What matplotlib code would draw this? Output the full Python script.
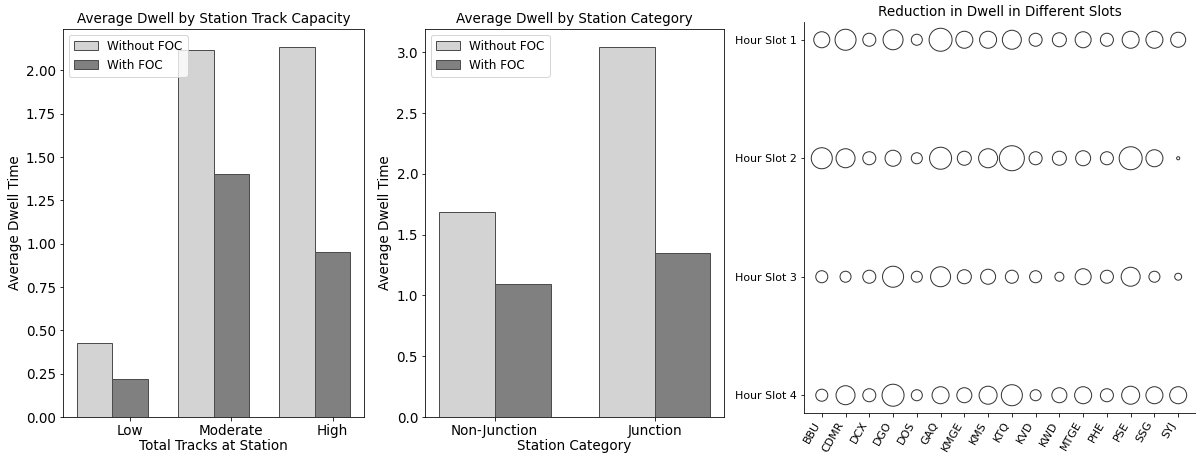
import numpy as np
import matplotlib
matplotlib.use("Agg")
import matplotlib.pyplot as plt

# Panel 1: dwell by track capacity
capacity = ["Low", "Moderate", "High"]
cap_without = [0.426, 2.119, 2.132]
cap_with = [0.219, 1.40, 0.953]

# Panel 2: dwell by station category
category = ["Non-Junction", "Junction"]
cat_without = [1.688, 3.04]
cat_with = [1.096, 1.351]

# Panel 3: reduction in dwell per station and hour slot
stations = ["BBU", "CDMR", "DCX", "DGO", "DOS", "GAQ", "KMGE", "KMS",
            "KTQ", "KVD", "KWD", "MTGE", "PHE", "PSE", "SSG", "SYJ"]
slots = ["Hour Slot 1", "Hour Slot 2", "Hour Slot 3", "Hour Slot 4"]
slot1 = [1.33, 2.29, 0.88, 2.07, 0.63, 2.74, 1.50, 1.50, 1.87, 0.88, 1.02, 1.33, 0.88, 1.50, 1.50, 1.17]
slot2 = [2.29, 1.87, 0.88, 1.33, 0.63, 2.51, 1.02, 1.87, 3.24, 0.88, 1.02, 1.17, 0.88, 2.74, 1.50, 0.05]
slot3 = [0.75, 0.63, 0.88, 2.29, 0.63, 2.07, 1.02, 1.17, 0.88, 0.75, 0.42, 1.33, 0.88, 1.87, 0.63, 0.25]
slot4 = [0.75, 1.87, 0.88, 2.51, 0.63, 1.50, 1.17, 1.68, 2.29, 0.63, 1.17, 1.50, 0.88, 1.68, 1.50, 1.50]

light = "#d3d3d3"
dark = "#808080"
edge = "#4d4d4d"
width = 0.35

plt.rcParams["font.size"] = 13.5
plt.rcParams["axes.titlesize"] = 13.5
plt.rcParams["legend.fontsize"] = 12

fig = plt.figure(figsize=(1196 / 72, 456 / 72), dpi=72)

# first panel
ax1 = fig.add_axes([0.0527, 0.0855, 0.2517, 0.8509])
x = np.arange(len(capacity))
ax1.bar(x, cap_without, width, color=light, edgecolor=edge, label="Without FOC")
ax1.bar(x + width, cap_with, width, color=dark, edgecolor=edge, label="With FOC")
ax1.set_xticks(x + width)
ax1.set_xticklabels(capacity)
ax1.set_xlabel("Total Tracks at Station", labelpad=1)
ax1.set_ylabel("Average Dwell Time")
ax1.set_title("Average Dwell by Station Track Capacity")
ax1.legend(loc="upper left")

# second panel
ax2 = fig.add_axes([0.3554, 0.0855, 0.25, 0.8509])
x = np.arange(len(category))
ax2.bar(x, cat_without, width, color=light, edgecolor=edge, label="Without FOC")
ax2.bar(x + width, cat_with, width, color=dark, edgecolor=edge, label="With FOC")
ax2.set_xticks(x + width / 2)
ax2.set_xticklabels(category)
ax2.set_xlabel("Station Category", labelpad=1)
ax2.set_ylabel("Average Dwell Time")
ax2.set_title("Average Dwell by Station Category")
ax2.legend(loc="upper left")

# third panel: bubbles
ax3 = fig.add_axes([0.6722, 0.0943, 0.3278, 0.8575])
xs = np.arange(len(stations))
for i, vals in enumerate([slot1, slot2, slot3, slot4]):
    ax3.scatter(xs, [i] * len(xs), s=np.array(vals) * 193,
                facecolors="none", edgecolors="#333333", linewidths=1)
ax3.set_xticks(xs)
ax3.set_xticklabels(stations, rotation=60, ha="right", fontsize=11)
ax3.set_yticks(range(len(slots)))
ax3.set_yticklabels(slots, fontsize=11)
ax3.invert_yaxis()
ax3.spines["top"].set_visible(False)
ax3.spines["right"].set_visible(False)
ax3.set_title("Reduction in Dwell in Different Slots")

fig.savefig("out.png", dpi=72)
